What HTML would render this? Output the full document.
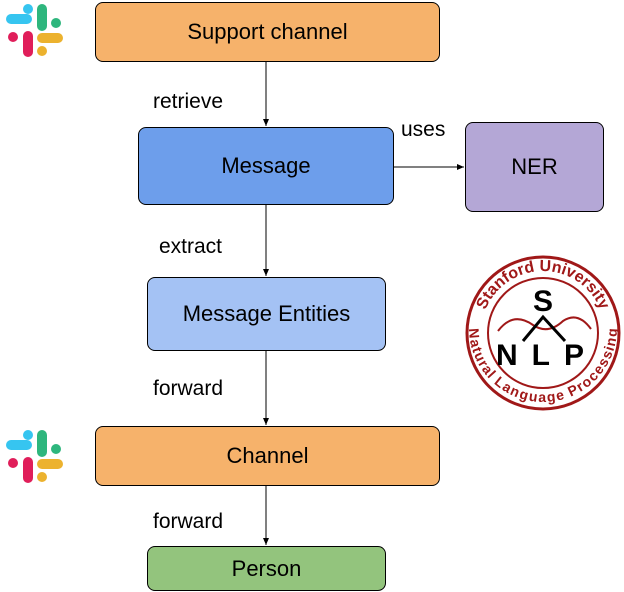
<!DOCTYPE html>
<html><head><style>
body{margin:0;width:624px;height:592px;background:#fff;font-family:"Liberation Sans",sans-serif;position:relative;overflow:hidden}
.b{position:absolute;box-sizing:border-box;border:1px solid #000;border-radius:8px;display:flex;align-items:center;justify-content:center;font-size:22px;color:#000}
.l{position:absolute;font-size:21px}
</style></head><body>
<svg width="624" height="592" style="position:absolute;left:0;top:0">
<defs><marker id="a" markerWidth="8" markerHeight="8" refX="7" refY="4" orient="auto" markerUnits="userSpaceOnUse"><path d="M0,1 L7,4 L0,7z" fill="#000"/></marker></defs>
<g stroke="#000" stroke-width="1" marker-end="url(#a)">
<line x1="266" y1="62" x2="266" y2="126"/>
<line x1="266" y1="205" x2="266" y2="276"/>
<line x1="266" y1="351" x2="266" y2="425"/>
<line x1="266" y1="486" x2="266" y2="545"/>
<line x1="394" y1="167" x2="464" y2="167"/>
</g>
<g id="s" stroke-linecap="round" fill="none">
<line x1="11" y1="19" x2="27" y2="19" stroke="#36c5f0" stroke-width="10"/>
<line x1="28" y1="9" x2="28" y2="9" stroke="#36c5f0" stroke-width="10"/>
<line x1="42" y1="9" x2="42" y2="26" stroke="#2eb67d" stroke-width="10"/>
<line x1="56" y1="23" x2="56" y2="23" stroke="#2eb67d" stroke-width="10"/>
<line x1="28" y1="36" x2="28" y2="52" stroke="#e01e5a" stroke-width="10"/>
<line x1="13" y1="37" x2="13" y2="37" stroke="#e01e5a" stroke-width="10"/>
<line x1="42" y1="38" x2="58" y2="38" stroke="#ecb22e" stroke-width="10"/>
<line x1="42" y1="51" x2="42" y2="51" stroke="#ecb22e" stroke-width="10"/>
</g>
<use href="#s" x="0" y="426"/>
<g transform="translate(543,333)">
<circle r="76" fill="none" stroke="#a01818" stroke-width="3"/>
<circle r="55" fill="none" stroke="#a01818" stroke-width="2"/>
<path id="t" d="M-62,0 A62,62 0 0 1 62,0" fill="none"/>
<text font-size="16" font-weight="bold" fill="#a01818"><textPath href="#t" startOffset="50%" text-anchor="middle">Stanford University</textPath></text>
<path id="u" d="M-63,-5 A63,63 0 0 0 63,-5" fill="none"/>
<text font-size="14" font-weight="bold" fill="#a01818" dy="11"><textPath href="#u" startOffset="50%" text-anchor="middle">Natural Language Processing</textPath></text>
<path d="M-45,-2 Q-30,-22 -10,-8 Q5,2 20,-12 Q35,-22 48,-4" fill="none" stroke="#a01818" stroke-width="2"/>
<path d="M-20,8 L0,-16 L22,8" fill="none" stroke="#000" stroke-width="3"/>
<text x="0" y="-22" font-size="30" font-weight="bold" text-anchor="middle">S</text>
<text x="4" y="32" font-size="30" font-weight="bold" text-anchor="middle" letter-spacing="14">NLP</text>
</g>
</svg>
<div class="b" style="left:95px;top:2px;width:345px;height:60px;background:#f6b26b">Support channel</div>
<div class="b" style="left:138px;top:127px;width:256px;height:78px;background:#6d9eeb">Message</div>
<div class="b" style="left:465px;top:122px;width:139px;height:90px;background:#b4a7d6">NER</div>
<div class="b" style="left:147px;top:277px;width:239px;height:74px;background:#a4c2f4">Message Entities</div>
<div class="b" style="left:95px;top:426px;width:345px;height:60px;background:#f6b26b">Channel</div>
<div class="b" style="left:147px;top:546px;width:239px;height:45px;background:#93c47d">Person</div>
<div class="l" style="left:153px;top:90px">retrieve</div>
<div class="l" style="left:401px;top:118px">uses</div>
<div class="l" style="left:159px;top:235px">extract</div>
<div class="l" style="left:153px;top:377px">forward</div>
<div class="l" style="left:153px;top:510px">forward</div>
</body></html>
